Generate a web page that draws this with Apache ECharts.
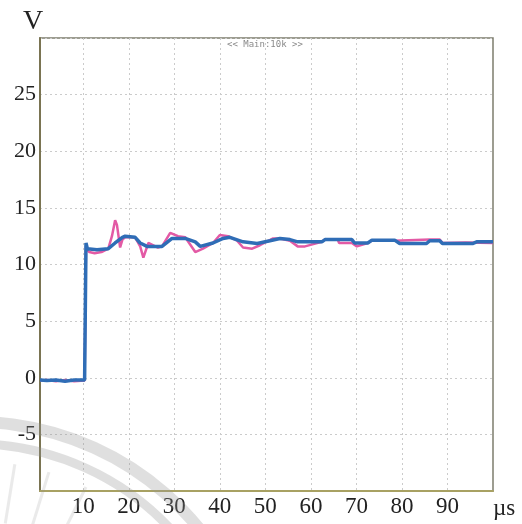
<!DOCTYPE html>
<html>
<head>
<meta charset="utf-8">
<title>Step response</title>
<script src="https://cdn.jsdelivr.net/npm/echarts@6/dist/echarts.min.js"></script>
<style>
  html, body { margin: 0; padding: 0; background: #ffffff; }
  #chart { width: 522px; height: 524px; }
</style>
</head>
<body>
<div id="chart"></div>
<script>
// Time axis (µs) and voltage axis (V)
const xTicks = [10, 20, 30, 40, 50, 60, 70, 80, 90];
const yTicks = [-5, 0, 5, 10, 15, 20, 25];

// Channel traces: time in µs, value in V
const pinkT = [0.5, 2, 4, 6, 8, 10.3, 10.6, 10.9, 11.3, 12.5, 14, 15.5, 16.3, 17, 17.4, 18.1, 18.6, 19.2, 21.4, 22.5, 23.2, 24.3, 26.4, 27.3, 29.1, 30.8, 32.4, 34.6, 36.3, 38.5, 40, 41.8, 43.8, 45.1, 47.1, 48.8, 51.7, 53.2, 55.4, 57.1, 58.7, 62.4, 63.1, 65.9, 66.2, 69, 70.1, 72.5, 73.4, 78.4, 86.1, 88.3, 88.9, 94, 100];
const pinkV = [-0.25, -0.2, -0.3, -0.2, -0.3, -0.25, 11.6, 11.3, 11.1, 11.0, 11.1, 11.4, 12.5, 13.9, 13.5, 11.5, 12.2, 12.4, 12.4, 11.6, 10.6, 11.9, 11.5, 11.6, 12.8, 12.5, 12.4, 11.1, 11.4, 11.9, 12.6, 12.5, 12.1, 11.5, 11.4, 11.7, 12.3, 12.3, 12.1, 11.6, 11.6, 12.0, 12.2, 12.2, 11.9, 11.9, 11.6, 11.9, 12.1, 12.1, 12.2, 12.2, 11.9, 11.95, 11.9];

const blueT = [0.5, 2, 4, 6, 8, 10.3, 10.6, 10.9, 11.3, 13, 15.5, 17, 18.6, 19.2, 21.4, 22.5, 24, 27.3, 29.5, 32.4, 34.6, 35.7, 38.5, 40.7, 42.2, 45.1, 48.2, 51, 53.2, 55.4, 57.1, 62.4, 63.1, 69, 69.6, 72.5, 73.4, 78.4, 79.5, 85.4, 86.1, 88.3, 88.9, 95.5, 96.4, 100];
const blueV = [-0.2, -0.25, -0.2, -0.3, -0.2, -0.2, 11.9, 11.4, 11.3, 11.3, 11.4, 11.9, 12.4, 12.5, 12.4, 11.9, 11.6, 11.6, 12.3, 12.3, 12.0, 11.6, 11.9, 12.3, 12.4, 12.0, 11.85, 12.1, 12.3, 12.2, 12.0, 12.0, 12.2, 12.2, 11.9, 11.9, 12.15, 12.15, 11.85, 11.85, 12.1, 12.1, 11.85, 11.85, 12.0, 12.0];

const pinkData = pinkT.map((t, i) => [t, pinkV[i]]);
const blueData = blueT.map((t, i) => [t, blueV[i]]);

const chart = echarts.init(document.getElementById('chart'), null, { renderer: 'canvas' });

const serif = '"Liberation Serif", "DejaVu Serif", serif';
const gridDot = { color: '#cbcbcb', width: 1, type: [2, 3] };

// faint circular watermark strokes in the lower-left corner
const wmStroke = 'rgba(150,150,150,0.30)';
const wmCx = -25, wmCy = 711;
const spokes = [0.16, 0.30, 0.46].map(a => {
  const s = Math.sin(a), c = Math.cos(a);
  return {
    type: 'line', silent: true, z: 100,
    shape: { x1: wmCx + 190 * s, y1: wmCy - 190 * c, x2: wmCx + 250 * s, y2: wmCy - 250 * c },
    style: { stroke: 'rgba(150,150,150,0.2)', lineWidth: 3 }
  };
});

chart.setOption({
  animation: false,
  backgroundColor: '#ffffff',
  grid: {
    left: 40, right: 29, top: 38, bottom: 33,
    show: true, borderColor: '#7d7d6e', borderWidth: 1.5,
    containLabel: false, outerBoundsMode: 'none'
  },
  xAxis: {
    type: 'value', min: 0.5, max: 100,
    axisLine: { show: true, onZero: false, lineStyle: { color: '#a8a163', width: 2 } },
    axisTick: { show: false, customValues: xTicks },
    axisLabel: {
      customValues: xTicks, color: '#222', fontFamily: serif, fontSize: 23, margin: 4
    },
    splitLine: { show: true, lineStyle: gridDot }
  },
  yAxis: {
    type: 'value', min: -10, max: 30, interval: 5,
    axisLine: { show: true, onZero: false, lineStyle: { color: '#7a7452', width: 2 } },
    axisTick: { show: false },
    axisLabel: {
      customValues: yTicks, color: '#222', fontFamily: serif, fontSize: 22, margin: 4,
      verticalAlign: 'middle', padding: [0, 0, 13, 0]
    },
    splitLine: { show: true, lineStyle: gridDot }
  },
  series: [
    {
      name: 'CH2', type: 'line', data: pinkData, showSymbol: false, symbol: 'none',
      lineStyle: { color: '#e35aa5', width: 2.5 }, z: 2
    },
    {
      name: 'CH1', type: 'line', data: blueData, showSymbol: false, symbol: 'none',
      lineStyle: { color: '#2f6db6', width: 3.5 }, z: 3
    }
  ],
  graphic: [
    { type: 'text', left: 23, top: 8, style: { text: 'V', font: '28px ' + serif, fill: '#222' } },
    { type: 'text', left: 493, top: 497, style: { text: 'µs', font: '23px ' + serif, fill: '#222' } },
    { type: 'text', left: 227, top: 40, style: { text: '<< Main:10k >>', font: '9px "DejaVu Sans Mono", monospace', fill: '#8a8a8a' } },
    {
      type: 'arc', silent: true, z: 100,
      shape: { cx: wmCx, cy: wmCy, r: 289, startAngle: -Math.PI / 2 - 0.15, endAngle: -Math.PI / 2 + 1.0 },
      style: { stroke: wmStroke, lineWidth: 12, fill: null }
    },
    {
      type: 'arc', silent: true, z: 100,
      shape: { cx: wmCx, cy: wmCy, r: 267, startAngle: -Math.PI / 2 - 0.15, endAngle: -Math.PI / 2 + 1.0 },
      style: { stroke: wmStroke, lineWidth: 9, fill: null }
    }
  ].concat(spokes)
});
</script>
</body>
</html>
